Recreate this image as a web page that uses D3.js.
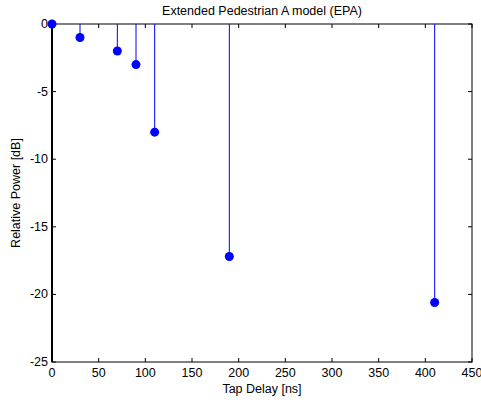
<!DOCTYPE html>
<html><head><meta charset="utf-8">
<script src="https://cdn.jsdelivr.net/npm/d3@7"></script>
<style>body{margin:0;background:#fff}text{font-family:"Liberation Sans",Arial,sans-serif;}</style>
</head><body>
<svg id="c" width="481" height="400"></svg>
<script>
const delays = [0, 30, 70, 90, 110, 190, 410];
const powers = [0, -1, -2, -3, -8, -17.2, -20.6];
const xTicks = [0, 50, 100, 150, 200, 250, 300, 350, 400, 450];
const yTicks = [0, -5, -10, -15, -20, -25];

const svg = d3.select("#c");
const L = 52, R = 472, T = 24, B = 362;
const FS = 12.5;
const x = d3.scaleLinear().domain([0, 450]).range([L, R]);
const y = d3.scaleLinear().domain([-25, 0]).range([B, T]);

// frame
svg.append("rect").attr("x", L).attr("y", T).attr("width", R - L).attr("height", B - T)
  .attr("fill", "none").attr("stroke", "#000").attr("stroke-width", 1);

const tk = 4;
const g = svg.append("g");
xTicks.forEach(v => {
  g.append("line").attr("x1", x(v)).attr("x2", x(v)).attr("y1", B).attr("y2", B - tk).attr("stroke", "#000");
  g.append("line").attr("x1", x(v)).attr("x2", x(v)).attr("y1", T).attr("y2", T + tk).attr("stroke", "#000");
  g.append("text").attr("x", x(v)).attr("y", B + 15).attr("text-anchor", "middle")
    .attr("font-size", FS).text(v);
});
yTicks.forEach(v => {
  g.append("line").attr("x1", L).attr("x2", L + tk).attr("y1", y(v)).attr("y2", y(v)).attr("stroke", "#000");
  g.append("line").attr("x1", R).attr("x2", R - tk).attr("y1", y(v)).attr("y2", y(v)).attr("stroke", "#000");
  g.append("text").attr("x", L - 4).attr("y", y(v) + 4).attr("text-anchor", "end")
    .attr("font-size", FS).text(v);
});

// stems
svg.selectAll(".stem").data(delays).enter().append("line")
  .attr("x1", (d) => x(d)).attr("x2", (d) => x(d))
  .attr("y1", y(0)).attr("y2", (d, i) => y(powers[i]))
  .attr("stroke", "#0000ff").attr("stroke-width", 1);

// left axis thicker
svg.append("line").attr("x1", L).attr("x2", L).attr("y1", T).attr("y2", B).attr("stroke", "#000").attr("stroke-width", 2);

svg.selectAll(".dot").data(delays).enter().append("circle")
  .attr("cx", (d) => x(d)).attr("cy", (d, i) => y(powers[i]))
  .attr("r", 4.5).attr("fill", "#0000ff");

svg.append("text").attr("x", (L + R) / 2).attr("y", 15).attr("text-anchor", "middle")
  .attr("font-size", FS).text("Extended Pedestrian A model (EPA)");
svg.append("text").attr("x", (L + R) / 2).attr("y", 393).attr("text-anchor", "middle")
  .attr("font-size", FS).text("Tap Delay [ns]");
svg.append("text").attr("transform", `translate(20,${(T + B) / 2}) rotate(-90)`).attr("text-anchor", "middle")
  .attr("font-size", FS).text("Relative Power [dB]");
</script>
</body></html>
